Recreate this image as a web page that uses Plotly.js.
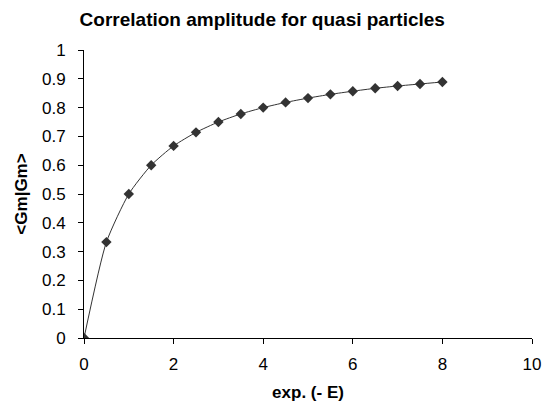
<!DOCTYPE html>
<html><head><meta charset="utf-8">
<script src="https://cdn.plot.ly/plotly-3.0.1.min.js"></script>
<style>body{margin:0;background:#fff}#c{width:543px;height:415px}</style>
</head><body><div id="c"></div>
<script>
const xValues = [0, 0.5, 1, 1.5, 2, 2.5, 3, 3.5, 4, 4.5, 5, 5.5, 6, 6.5, 7, 7.5, 8];
const yValues = [0, 0.333, 0.5, 0.6, 0.667, 0.714, 0.75, 0.778, 0.8, 0.818, 0.833, 0.846, 0.857, 0.867, 0.875, 0.882, 0.889];
const xTicks = [0, 2, 4, 6, 8, 10];
const yTicks = [0, 0.1, 0.2, 0.3, 0.4, 0.5, 0.6, 0.7, 0.8, 0.9, 1];

Plotly.newPlot('c', [{
  x: xValues, y: yValues, type: 'scatter', mode: 'lines+markers',
  line: {color: '#333', width: 1, shape: 'spline', smoothing: 0.6},
  marker: {symbol: 'diamond', size: 8, color: '#333'},
  showlegend: false, hoverinfo: 'skip'
}], {
  width: 543, height: 415,
  margin: {l: 84, r: 11, t: 50, b: 77},
  paper_bgcolor: '#fff', plot_bgcolor: '#fff',
  font: {family: 'Liberation Sans, Arial, sans-serif', color: '#000', size: 17},
  title: {text: '<b>Correlation amplitude for quasi particles</b>', font: {size: 19}, x: 0.483, xanchor: 'center', y: 0.954, yanchor: 'middle'},
  xaxis: {
    range: [0, 10], tickvals: xTicks, ticktext: xTicks.map(String),
    showgrid: false, zeroline: false, showline: true, linecolor: '#000', linewidth: 1,
    ticks: 'outside', ticklen: 5, tickcolor: '#000', ticklabelstandoff: 6,
    title: {text: '<b>exp. (- E)</b>', font: {size: 17}, standoff: 12}
  },
  yaxis: {
    range: [0, 1], tickvals: yTicks, ticktext: yTicks.map(String),
    showgrid: false, zeroline: false, showline: true, linecolor: '#000', linewidth: 1,
    ticks: 'outside', ticklen: 5, tickcolor: '#000', ticklabelstandoff: 9,
    title: {text: '<b>&lt;Gm|Gm&gt;</b>', font: {size: 17}, standoff: 10}
  }
}, {displayModeBar: false, staticPlot: true});
</script></body></html>
